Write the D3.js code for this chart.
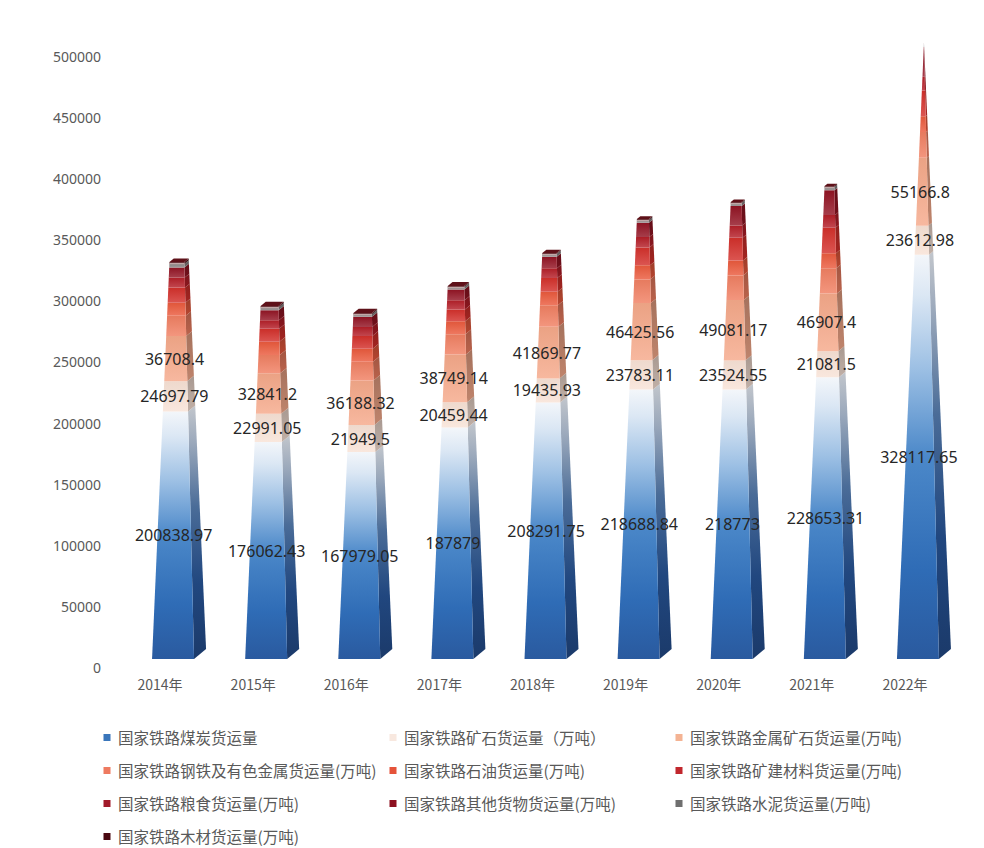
<!DOCTYPE html>
<html><head><meta charset="utf-8">
<script src="https://cdn.jsdelivr.net/npm/d3@7"></script>
<style>body{margin:0;background:#fff}svg{display:block}</style></head>
<body><svg id="c" width="984" height="848"></svg>
<script>
// ---------- data ----------
const years = ["2014年","2015年","2016年","2017年","2018年","2019年","2020年","2021年","2022年"];
const coal      = [200838.97,176062.43,167979.05,187879,208291.75,218688.84,218773,228653.31,328117.65];
const ore       = [24697.79,22991.05,21949.5,20459.44,19435.93,23783.11,23524.55,21081.5,23612.98];
const metalOre  = [36708.4,32841.2,36188.32,38749.14,41869.77,46425.56,49081.17,46907.4,55166.8];
const steel     = [16300,14800,15200,16500,17500,19200,20000,20500,20800];
const petroleum = [10600,10800,10500,10600,11000,11500,12000,12300,12800];
const mining    = [12300,10500,10300,9500,11200,14500,18500,20500,21000];
const grain     = [8200,7000,7400,7600,7900,8400,10000,10500,11200];
const other     = [8200,8000,8200,8600,9300,11600,15800,20000,24000];
const cement    = [3000,2500,2200,2100,2200,2200,2400,2600,2400];
const wood      = [1360,1000,900,800,800,800,800,900,900];
const seriesNames = ["国家铁路煤炭货运量","国家铁路矿石货运量（万吨）","国家铁路金属矿石货运量(万吨)",
  "国家铁路钢铁及有色金属货运量(万吨)","国家铁路石油货运量(万吨)","国家铁路矿建材料货运量(万吨)",
  "国家铁路粮食货运量(万吨)","国家铁路其他货物货运量(万吨)","国家铁路水泥货运量(万吨)","国家铁路木材货运量(万吨)"];
const seriesKeys = ["coal","ore","metalOre","steel","petroleum","mining","grain","other","cement","wood"];
const seriesData = [coal,ore,metalOre,steel,petroleum,mining,grain,other,cement,wood];
const labeledSeries = 3;
const yTicks = [0,50000,100000,150000,200000,250000,300000,350000,400000,450000,500000];

// ---------- styles ----------
const colors = ["#3a76bb","#f8e2d6","#f5a98a","#f07f62","#ea5a3d","#d3302b","#b41e28","#921423","#8a8484","#4e0a12"];
const legendColors = ["#3a76bb","#f8e8df","#f4b393","#ee7a60","#e5533a","#c1272d","#a11a2a","#8d1020","#6f6f6f","#4a0810"];

const table = years.map((y,i)=>{const r={year:y}; seriesKeys.forEach((k,j)=>r[k]=seriesData[j][i]); return r;});
const stack = d3.stack().keys(seriesKeys)(table);

const svg = d3.select("#c");
const H = 500000;
const yAxisScale = d3.scaleLinear().domain([0,H]).range([668,57]);
const yb = v => yAxisScale(v) - 9;
const x = d3.scaleBand().domain(years).range([113.5,951.5]);
const W = 42, DX = 12, DY = -10, OFF = 13;

const defs = svg.append("defs");
function vgrad(id, stops){
  const g = defs.append("linearGradient").attr("id",id).attr("x1",0).attr("y1",1).attr("x2",0).attr("y2",0);
  stops.forEach(s=>g.append("stop").attr("offset",s[0]).attr("stop-color",s[1]));
}
vgrad("coalFront",[[0,"#2a5a9f"],[0.22,"#2f6cb6"],[0.5,"#4b88c9"],[0.72,"#9dc0e4"],[0.9,"#dbe7f4"],[1,"#f3f6fa"]]);
vgrad("coalSide",[[0,"#1b3a6a"],[0.3,"#21477f"],[0.6,"#4a6c98"],[0.85,"#9aa8bb"],[1,"#c2c6cc"]]);
colors.forEach((c,j)=>{
  if (j===0) return;
  const base = d3.color(c);
  vgrad("f"+j,[[0,d3.interpolateRgb(c,"#ffffff")(0.18)],[1,base.darker(0.12).formatHex()]]);
  vgrad("s"+j,[[0,base.darker(0.7).formatHex()],[1,base.darker(1.1).formatHex()]]);
});

function corners(cx,h){
  const hh=Math.min(h,H), f=hh/H, hw=W/2*(1-f), zf=f/2, zb=1-f/2, y0=yb(hh);
  return {fl:[cx-hw+zf*DX,y0+zf*DY], fr:[cx+hw+zf*DX,y0+zf*DY], br:[cx+hw+zb*DX,y0+zb*DY], bl:[cx-hw+zb*DX,y0+zb*DY]};
}
const poly = pts => pts.map(p=>p.join(",")).join(" ");

const bars = svg.append("g");
years.forEach((yr,i)=>{
  const cx = x(yr)+x.bandwidth()/2+OFF;
  const g = bars.append("g");
  stack.forEach((s,j)=>{
    const h0=s[i][0], h1=s[i][1];
    if (h0>=H) return;
    const a=corners(cx,h0), b=corners(cx,h1);
    const fc = j===0 ? "url(#coalFront)" : "url(#f"+j+")";
    const sc = j===0 ? "url(#coalSide)" : "url(#s"+j+")";
    g.append("polygon").attr("points",poly([a.fr,a.br,b.br,b.fr])).attr("fill",sc);
    g.append("polygon").attr("points",poly([a.fl,a.fr,b.fr,b.fl])).attr("fill",fc);
  });
  const tot = stack[stack.length-1][i][1];
  if (tot < H) {
    const t=corners(cx,tot);
    g.append("polygon").attr("points",poly([t.fl,t.fr,t.br,t.bl])).attr("fill","#5e1119");
    g.append("line").attr("x1",t.fl[0]).attr("y1",t.fl[1]+1.5).attr("x2",t.fr[0]).attr("y2",t.fr[1]+1.5)
      .attr("stroke","#c2a8a8").attr("stroke-width",1.5);
  }
  // data labels
  for (let j=0;j<labeledSeries;j++){
    const s=stack[j][i], mid=(s[0]+s[1])/2, f=mid/H;
    g.append("text").attr("x",cx+f*3).attr("y",yb(mid)+f*DY/2)
      .attr("text-anchor","middle").attr("dominant-baseline","central")
      .attr("font-family","'Noto Sans', 'DejaVu Sans', sans-serif").attr("font-size",16).attr("fill","#262626")
      .text(seriesData[j][i]);
  }
});

// y axis
const yAxis = svg.append("g").attr("transform","translate(101,0)")
  .call(d3.axisLeft(yAxisScale).tickValues(yTicks).tickSize(0).tickPadding(0).tickFormat(d3.format("d")));
yAxis.select(".domain").remove();
yAxis.selectAll("text").attr("font-family","'Noto Sans', sans-serif").attr("font-size",14).attr("fill","#595959");

// x axis labels
const xAxis = svg.append("g").attr("transform","translate(0,680)")
  .call(d3.axisBottom(x).tickSize(0).tickPadding(0));
xAxis.select(".domain").remove();
xAxis.selectAll("text").attr("font-family","'Noto Sans CJK SC', 'Noto Sans', sans-serif").attr("font-size",14).attr("fill","#595959");

// legend
const legCols=[107,393,679], legRows=[737,770,803,836];
const leg = svg.append("g");
seriesNames.forEach((n,k)=>{
  const cxl=legCols[k%3], cyl=legRows[Math.floor(k/3)];
  leg.append("rect").attr("x",cxl-3.5).attr("y",cyl-3).attr("width",7).attr("height",7).attr("fill",legendColors[k]);
  leg.append("text").attr("x",cxl+11).attr("y",cyl).attr("dominant-baseline","central")
    .attr("font-family","'Noto Sans CJK SC', sans-serif").attr("font-size",15.5).attr("fill","#595959").text(n);
});
</script></body></html>
